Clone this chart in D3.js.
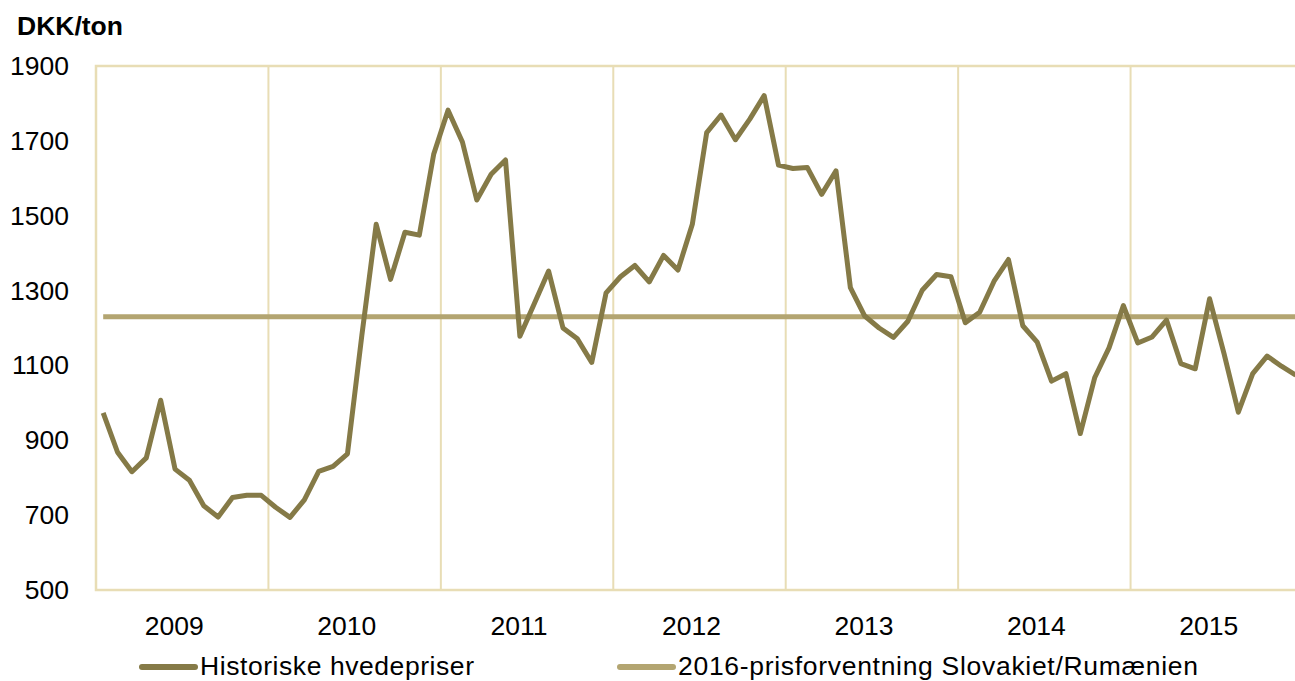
<!DOCTYPE html>
<html>
<head>
<meta charset="utf-8">
<script src="https://cdn.jsdelivr.net/npm/d3@7"></script>
<style>
  body { margin: 0; background: #fff; }
  svg { display: block; font-family: "Liberation Sans", Arial, sans-serif; }
</style>
</head>
<body>
<div id="chart"></div>
<script>
// Data
const years = ["2009", "2010", "2011", "2012", "2013", "2014", "2015"];
const prices = [
  973, 868, 816, 853, 1007, 823, 793, 725, 695, 747, 753, 753,      // 2009
  721, 694, 741, 817, 830, 864, 1180, 1477, 1330, 1456, 1448, 1664, // 2010
  1782, 1697, 1542, 1611, 1649, 1178, 1265, 1352, 1200, 1171, 1108, 1294, // 2011
  1337, 1367, 1323, 1394, 1355, 1477, 1722, 1769, 1703, 1758, 1821, 1635, // 2012
  1626, 1629, 1557, 1620, 1308, 1232, 1200, 1175, 1218, 1301, 1343, 1337, // 2013
  1214, 1242, 1325, 1383, 1206, 1162, 1058, 1078, 918, 1067, 1147, 1260,  // 2014
  1160, 1176, 1221, 1105, 1091, 1278, 1132, 975, 1078, 1125, 1098, 1074   // 2015
];
const forecast = 1230;
const yTicks = [500, 700, 900, 1100, 1300, 1500, 1700, 1900];
const seriesNames = ["Historiske hvedepriser", "2016-prisforventning Slovakiet/Rumænien"];

const cores = { hist: "#857a47", prog: "#b3a571", grid: "#e8ddb5" };

// Layout
const W = 1295, H = 681;
const pLeft = 96, pRight = 1303, pTop = 66, pBottom = 590;

const svg = d3.select("#chart").append("svg")
  .attr("width", W).attr("height", H);

// Scales
const months = d3.range(prices.length);
const x = d3.scaleBand().domain(months).range([pLeft, pRight]);
const xYear = d3.scaleBand().domain(years).range([pLeft, pRight]);
const y = d3.scaleLinear().domain([500, 1900]).range([pBottom, pTop]);

// Grid: year dividers + plot border
svg.append("g")
  .selectAll("line")
  .data(years.slice(1))
  .join("line")
  .attr("x1", d => xYear(d)).attr("x2", d => xYear(d))
  .attr("y1", pTop).attr("y2", pBottom)
  .attr("stroke", cores.grid).attr("stroke-width", 2);

svg.append("rect")
  .attr("x", pLeft).attr("y", pTop)
  .attr("width", pRight - pLeft).attr("height", pBottom - pTop)
  .attr("fill", "none").attr("stroke", cores.grid).attr("stroke-width", 2.5);

// Y axis
const yAxis = svg.append("g")
  .attr("transform", `translate(${pLeft - 24},0)`)
  .call(d3.axisLeft(y).tickValues(yTicks).tickSize(0).tickFormat(d3.format("d")));
yAxis.select(".domain").remove();
yAxis.selectAll("text")
  .attr("font-size", 26.5).attr("fill", "#000")
  .attr("font-family", "Liberation Sans, Arial, sans-serif");

// X axis (year labels)
const xAxis = svg.append("g")
  .attr("transform", `translate(-8,${pBottom + 23})`)
  .call(d3.axisBottom(xYear).tickSize(0));
xAxis.select(".domain").remove();
xAxis.selectAll("text")
  .attr("font-size", 26.5).attr("fill", "#000")
  .attr("font-family", "Liberation Sans, Arial, sans-serif");

// Unit title
svg.append("text")
  .attr("x", 17).attr("y", 35)
  .attr("font-size", 26.5).attr("font-weight", "bold")
  .text("DKK/ton");

// Forecast line
const cx = i => x(i) + x.bandwidth() / 2;
svg.append("line")
  .attr("x1", cx(0)).attr("x2", cx(prices.length - 1))
  .attr("y1", y(forecast)).attr("y2", y(forecast))
  .attr("stroke", cores.prog).attr("stroke-width", 5);

// Historical prices
const line = d3.line()
  .x((d, i) => cx(i))
  .y(d => y(d));

svg.append("path")
  .datum(prices)
  .attr("d", line)
  .attr("fill", "none")
  .attr("stroke", cores.hist)
  .attr("stroke-width", 5)
  .attr("stroke-linejoin", "round");

// Legend
const legend = [
  { name: seriesNames[0], color: cores.hist, x: 142 },
  { name: seriesNames[1], color: cores.prog, x: 620 }
];
const lg = svg.append("g").selectAll("g").data(legend).join("g")
  .attr("transform", d => `translate(${d.x},667)`);
lg.append("line")
  .attr("x1", 0).attr("x2", 53)
  .attr("stroke", d => d.color).attr("stroke-width", 6)
  .attr("stroke-linecap", "round");
lg.append("text")
  .attr("x", 58).attr("y", 8)
  .attr("font-size", 26.5)
  .attr("textLength", (d, i) => i === 0 ? 274 : 520)
  .text(d => d.name);
</script>
</body>
</html>
